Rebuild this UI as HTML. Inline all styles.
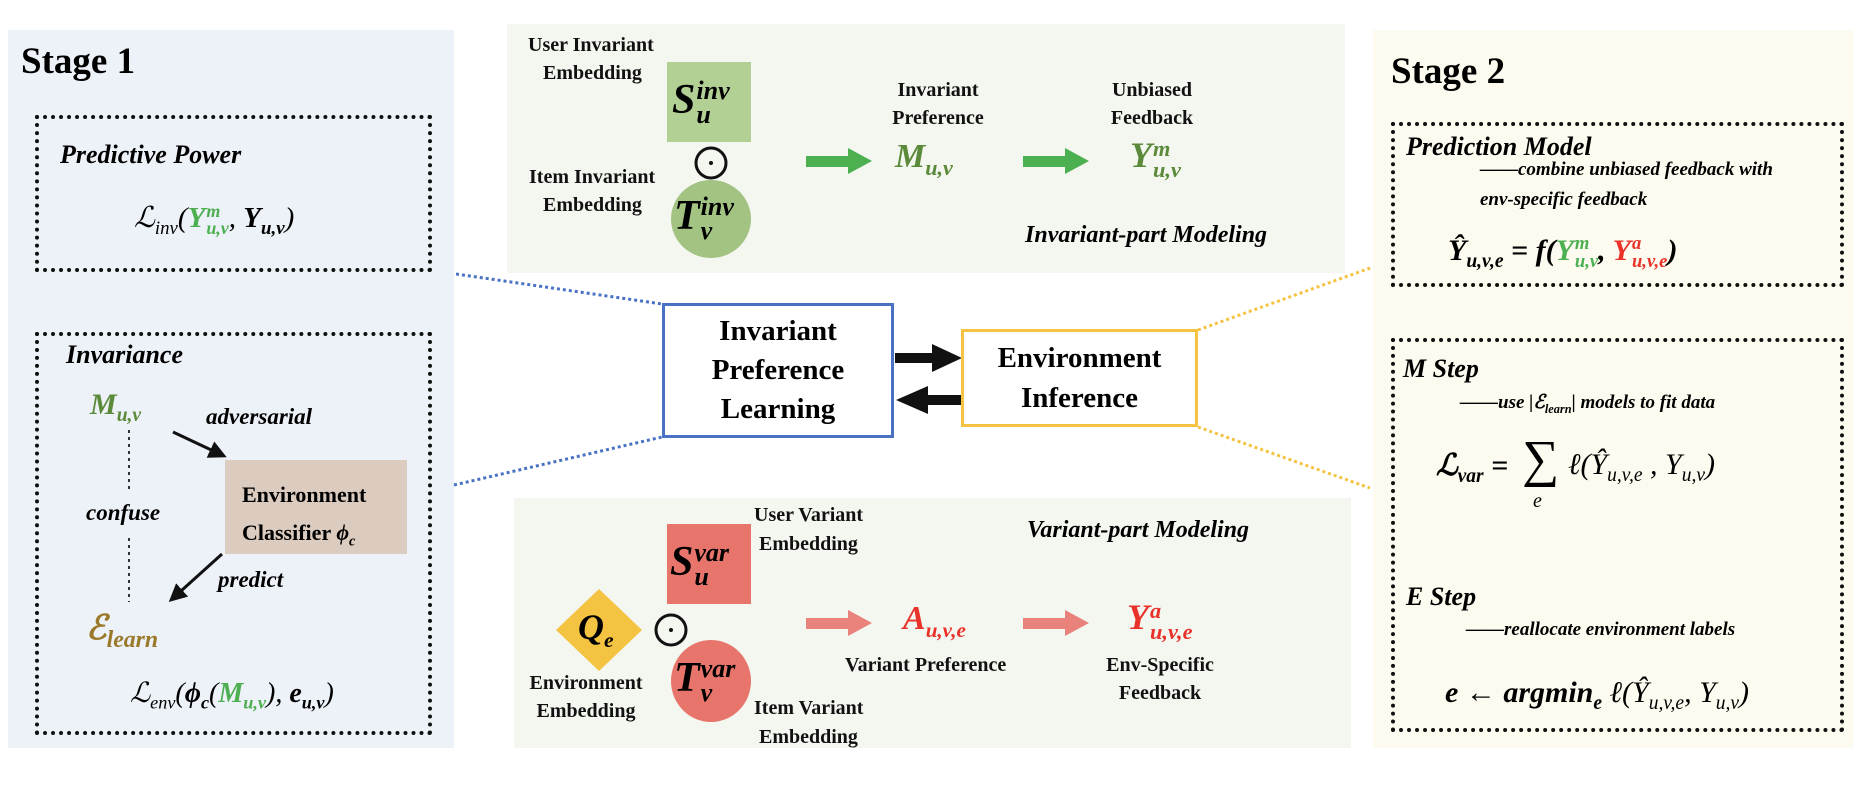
<!DOCTYPE html>
<html><head><meta charset="utf-8"><style>
body{margin:0;width:1870px;height:800px;background:#fff;position:relative;overflow:hidden;font-family:"Liberation Serif",serif;}
.a{position:absolute;white-space:nowrap;}
.b{font-weight:bold;}
.i{font-style:italic;}
.t{font-weight:bold;font-size:20px;color:#111;line-height:28px;}
.dot{position:absolute;border:4px dotted #111;box-sizing:border-box;}
.g{color:#4caf50}.o{color:#5b8a3a}.r{color:#e8322a}
sub,sup{font-size:65%;}
.m{font-style:italic;font-weight:bold;}
.ss{display:inline-block;vertical-align:middle;font-size:62%;line-height:0.95;text-align:left;margin-left:1px}
.ss b,.ss i{display:block;font-weight:inherit;font-style:inherit}
</style></head><body>
<!-- panels -->
<div class="a" style="left:8px;top:30px;width:446px;height:718px;background:#edf1f8"></div>
<div class="a" style="left:507px;top:24px;width:838px;height:249px;background:#f4f7f0"></div>
<div class="a" style="left:514px;top:498px;width:837px;height:250px;background:#f4f7f0"></div>
<div class="a" style="left:1373px;top:30px;width:480px;height:718px;background:#fdfbef"></div>

<svg class="a" style="left:0;top:0" width="1870" height="800">
<defs>
<marker id="ak" markerWidth="6" markerHeight="6" refX="5" refY="3" orient="auto"><path d="M0,0L6,3L0,6z" fill="#111"/></marker>
</defs>
<line x1="456" y1="274" x2="662" y2="304" stroke="#4a72c4" stroke-width="3" stroke-dasharray="3,3"/>
<line x1="454" y1="485" x2="662" y2="437" stroke="#4a72c4" stroke-width="3" stroke-dasharray="3,3"/>
<line x1="1198" y1="330" x2="1373" y2="267" stroke="#f5c342" stroke-width="3" stroke-dasharray="3,3"/>
<line x1="1198" y1="427" x2="1370" y2="488" stroke="#f5c342" stroke-width="3" stroke-dasharray="3,3"/>
<rect x="895" y="353" width="40" height="10" fill="#111"/><path d="M932,344L962,358L932,372z" fill="#111"/>
<rect x="925" y="395" width="36" height="10" fill="#111"/><path d="M928,386L896,400L928,414z" fill="#111"/>
<rect x="806" y="156" width="44" height="11" fill="#4caf50"/><path d="M848,148L872,161L848,174z" fill="#4caf50"/>
<rect x="1023" y="156" width="44" height="11" fill="#4caf50"/><path d="M1065,148L1089,161L1065,174z" fill="#4caf50"/>
<rect x="806" y="618" width="44" height="11" fill="#e8827a"/><path d="M848,610L872,623L848,636z" fill="#e8827a"/>
<rect x="1023" y="618" width="44" height="11" fill="#e8827a"/><path d="M1065,610L1089,623L1065,636z" fill="#e8827a"/>
<line x1="173" y1="432" x2="224" y2="456" stroke="#111" stroke-width="3" marker-end="url(#ak)"/>
<line x1="222" y1="554" x2="171" y2="600" stroke="#111" stroke-width="3" marker-end="url(#ak)"/>
<line x1="129" y1="430" x2="129" y2="493" stroke="#333" stroke-width="2" stroke-dasharray="3,4"/>
<line x1="129" y1="538" x2="129" y2="602" stroke="#333" stroke-width="2" stroke-dasharray="3,4"/>
<rect x="667" y="62" width="84" height="80" fill="#b2cf94"/>
<ellipse cx="711" cy="219" rx="40" ry="39" fill="#a2c382"/>
<circle cx="711" cy="163" r="15" fill="none" stroke="#111" stroke-width="3"/><circle cx="711" cy="163" r="2" fill="#111"/>
<rect x="667" y="524" width="84" height="80" fill="#e8756b"/>
<ellipse cx="711" cy="681" rx="40" ry="41" fill="#e8756b"/>
<path d="M599,589L642,630L599,671L556,630z" fill="#f5c342"/>
<circle cx="671" cy="630" r="15" fill="none" stroke="#111" stroke-width="3"/><circle cx="671" cy="630" r="2" fill="#111"/>
</svg>

<!-- Stage 1 -->
<div class="a b" style="left:21px;top:40px;font-size:37px">Stage 1</div>
<div class="dot" style="left:35px;top:115px;width:397px;height:157px"></div>
<div class="a b i" style="left:60px;top:140px;font-size:26px">Predictive Power</div>
<div class="a i" style="left:134px;top:200px;font-size:29px">ℒ<sub>inv</sub>(<span class="g b">Y<span class="ss"><b>m</b><b>u,v</b></span></span>, <b>Y</b><sub><b>u,v</b></sub>)</div>
<div class="dot" style="left:35px;top:332px;width:397px;height:403px"></div>
<div class="a b i" style="left:66px;top:340px;font-size:26px">Invariance</div>
<div class="a m o" style="left:90px;top:388px;font-size:30px">M<sub>u,v</sub></div>
<div class="a b i" style="left:206px;top:404px;font-size:23px">adversarial</div>
<div class="a b i" style="left:86px;top:500px;font-size:23px">confuse</div>
<div class="a" style="left:225px;top:460px;width:182px;height:94px;background:#dccbbf"></div>
<div class="a b" style="left:242px;top:476px;font-size:22px;line-height:38px">Environment<br>Classifier <i>ϕ<sub>c</sub></i></div>
<div class="a b i" style="left:218px;top:567px;font-size:23px">predict</div>
<div class="a i" style="left:86px;top:608px;font-size:34px;color:#9a7a2a;font-weight:bold">ℰ<sub style="font-size:70%">learn</sub></div>
<div class="a i" style="left:130px;top:676px;font-size:28px">ℒ<sub>env</sub>(<b>ϕ</b><sub><b>c</b></sub>(<span class="g b">M<sub>u,v</sub></span>), <b>e</b><sub><b>u,v</b></sub>)</div>

<!-- invariant part -->
<div class="a t" style="left:528px;top:31px">User Invariant</div>
<div class="a t" style="left:543px;top:59px">Embedding</div>
<div class="a m" style="left:672px;top:76px;font-size:42px">S<span class="ss"><b>inv</b><b>u</b></span></div>
<div class="a t" style="left:529px;top:163px">Item Invariant</div>
<div class="a t" style="left:543px;top:191px">Embedding</div>
<div class="a m" style="left:674px;top:192px;font-size:42px">T<span class="ss"><b>inv</b><b>v</b></span></div>
<div class="a t" style="left:892px;top:76px;text-align:center;width:92px">Invariant<br>Preference</div>
<div class="a m o" style="left:895px;top:138px;font-size:34px">M<sub>u,v</sub></div>
<div class="a t" style="left:1106px;top:76px;text-align:center;width:92px">Unbiased<br>Feedback</div>
<div class="a m o" style="left:1130px;top:134px;font-size:36px">Y<span class="ss"><b>m</b><b>u,v</b></span></div>
<div class="a b i" style="left:1025px;top:222px;font-size:24px">Invariant-part Modeling</div>

<!-- center boxes -->
<div class="a" style="left:662px;top:303px;width:232px;height:135px;border:3px solid #4a72c4;box-sizing:border-box;background:#fff"></div>
<div class="a b" style="left:662px;top:312px;width:232px;text-align:center;font-size:29px;line-height:39px">Invariant<br>Preference<br>Learning</div>
<div class="a" style="left:961px;top:329px;width:237px;height:98px;border:3px solid #f5c342;box-sizing:border-box;background:#fff"></div>
<div class="a b" style="left:961px;top:338px;width:237px;text-align:center;font-size:29px;line-height:40px">Environment<br>Inference</div>

<!-- variant part -->
<div class="a b i" style="left:1027px;top:517px;font-size:24px">Variant-part Modeling</div>
<div class="a t" style="left:754px;top:501px">User Variant</div>
<div class="a t" style="left:759px;top:530px">Embedding</div>
<div class="a m" style="left:670px;top:538px;font-size:42px">S<span class="ss"><b>var</b><b>u</b></span></div>
<div class="a m" style="left:578px;top:606px;font-size:36px">Q<sub style="font-size:60%">e</sub></div>
<div class="a m" style="left:674px;top:654px;font-size:42px">T<span class="ss"><b>var</b><b>v</b></span></div>
<div class="a t" style="left:526px;top:669px;text-align:center;width:120px">Environment<br>Embedding</div>
<div class="a t" style="left:754px;top:694px">Item Variant</div>
<div class="a t" style="left:759px;top:723px">Embedding</div>
<div class="a m r" style="left:903px;top:600px;font-size:34px">A<sub style="font-size:62%">u,v,e</sub></div>
<div class="a t" style="left:845px;top:651px">Variant Preference</div>
<div class="a m r" style="left:1127px;top:596px;font-size:36px">Y<span class="ss"><b>a</b><b>u,v,e</b></span></div>
<div class="a t" style="left:1100px;top:651px;text-align:center;width:120px">Env-Specific<br>Feedback</div>

<!-- Stage 2 -->
<div class="a b" style="left:1391px;top:50px;font-size:37px">Stage 2</div>
<div class="dot" style="left:1391px;top:122px;width:453px;height:165px"></div>
<div class="a b i" style="left:1406px;top:132px;font-size:26px">Prediction Model</div>
<div class="a b i" style="left:1480px;top:155px;font-size:19px;line-height:30px">——combine unbiased feedback with<br>env-specific feedback</div>
<div class="a m" style="left:1448px;top:234px;font-size:30px">Ŷ<sub>u,v,e</sub> = f(<span class="g">Y<span class="ss"><b>m</b><b>u,v</b></span></span>, <span class="r">Y<span class="ss"><b>a</b><b>u,v,e</b></span></span>)</div>
<div class="dot" style="left:1391px;top:338px;width:453px;height:394px"></div>
<div class="a b i" style="left:1403px;top:354px;font-size:26px">M Step</div>
<div class="a b i" style="left:1460px;top:391px;font-size:19px">——use |ℰ<sub>learn</sub>| models to fit data</div>
<div class="a m" style="left:1436px;top:448px;font-size:30px">ℒ<sub>var</sub> = </div>
<div class="a" style="left:1522px;top:430px;font-size:52px;line-height:60px">∑</div>
<div class="a i" style="left:1533px;top:490px;font-size:20px">e</div>
<div class="a i" style="left:1568px;top:448px;font-size:30px">ℓ(Ŷ<sub>u,v,e</sub> , Y<sub>u,v</sub>)</div>
<div class="a b i" style="left:1406px;top:582px;font-size:26px">E Step</div>
<div class="a b i" style="left:1466px;top:619px;font-size:19px">——reallocate environment labels</div>
<div class="a m" style="left:1445px;top:676px;font-size:30px">e ← argmin<sub>e</sub> <span style="font-weight:normal">ℓ(Ŷ<sub>u,v,e</sub>, Y<sub>u,v</sub>)</span></div>
</body></html>
